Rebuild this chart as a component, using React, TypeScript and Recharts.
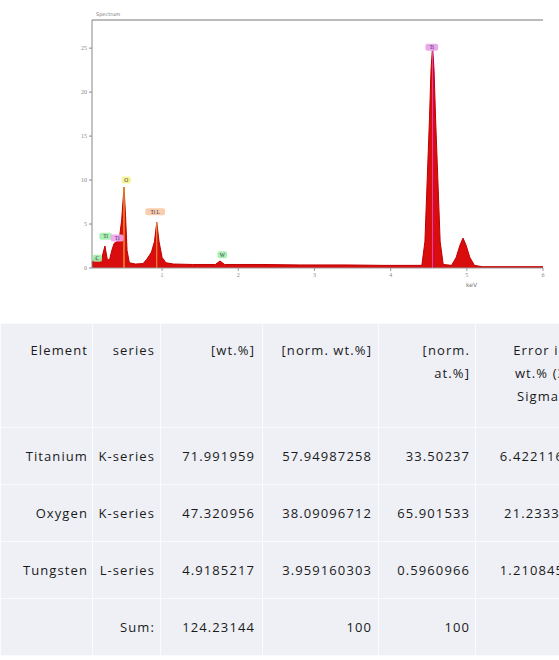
import React from "react";
import {
  Area,
  AreaChart,
  XAxis,
  YAxis,
  ReferenceLine,
  ReferenceDot,
} from "recharts";

// spectrum, energy in keV and intensity
const energy = [
  0.08, 0.11, 0.14, 0.17, 0.21, 0.25, 0.28, 0.31, 0.34, 0.37, 0.41, 0.44, 0.47,
  0.5, 0.52, 0.54, 0.57, 0.65, 0.75, 0.8, 0.86, 0.9, 0.93, 0.96, 1.0, 1.05,
  1.15, 1.4, 1.7, 1.76, 1.82, 2.3, 2.8, 3.4, 3.9, 4.41, 4.45, 4.48, 4.51, 4.53,
  4.55, 4.57, 4.59, 4.62, 4.65, 4.69, 4.8, 4.86, 4.91, 4.95, 4.99, 5.04, 5.1,
  5.2, 6.0,
];
const counts = [
  0.5, 1.1, 1.2, 0.7, 1.2, 2.5, 1.0, 0.9, 2.0, 2.8, 3.0, 3.4, 5.5, 9.2, 6.0,
  2.0, 0.6, 0.45, 0.5, 1.0, 1.8, 3.0, 5.2, 3.0, 1.2, 0.6, 0.45, 0.4, 0.4, 0.8,
  0.4, 0.4, 0.35, 0.35, 0.3, 0.3, 3.0, 10, 17, 22.5, 25.2, 22.5, 17, 10, 3.0,
  0.4, 0.3, 1.2, 2.6, 3.4, 2.6, 1.2, 0.3, 0.15, 0.15,
];

const xTicks = [1, 2, 3, 4, 5, 6];
const yTicks = [0, 5, 10, 15, 20, 25];

// peak labels: name, energy, label height, box colour
const peakNames = ["C", "Ti", "Ti", "O", "Ti L", "W", "Ti"];
const peakEnergy = [0.15, 0.26, 0.41, 0.53, 0.91, 1.79, 4.54];
const peakLabelY = [1.1, 3.6, 3.4, 10.0, 6.4, 1.5, 25.1];
const peakColors = ["#9ef0a8", "#9ef0a8", "#f4a0f0", "#f6f48c", "#f8c8a4", "#9ef0a8", "#e8a0e8"];

// marker lines inside peaks
const lineEnergy = [0.5, 0.93, 4.55];
const lineTop = [9.2, 5.2, 25.2];
const lineColors = ["#f0d040", "#f0a040", "#e040c0"];

// table
const headers = ["Element", "series", "[wt.%]", "[norm. wt.%]", "[norm.|at.%]", "Error in|wt.% (3|Sigma)"];
const elements = ["Titanium", "Oxygen", "Tungsten", ""];
const seriesNames = ["K-series", "K-series", "L-series", "Sum:"];
const wt = ["71.991959", "47.320956", "4.9185217", "124.23144"];
const normWt = ["57.94987258", "38.09096712", "3.959160303", "100"];
const normAt = ["33.50237", "65.901533", "0.5960966", "100"];
const errors = ["6.42211635", "21.233305", "1.21084591", ""];

const chartData = energy.map((e, i) => ({ e, c: counts[i] }));

const PeakTag = (props: any) => {
  const { cx, cy, name, color } = props;
  const w = name.length * 3.4 + 6;
  return (
    <g>
      <rect x={cx - w / 2} y={cy - 3.5} width={w} height={7} rx={2} fill={color} opacity={0.9} />
      <text x={cx} y={cy + 2} textAnchor="middle" fontSize={5.5} fill="#335">
        {name}
      </text>
    </g>
  );
};

const colW = [92, 68, 102, 116, 97, 130];
const rightEdgePad = [4, 5, 7, 6, 5, 0];

export default function App() {
  const cell = (content: string, i: number, header = false) => {
    const lines = content.split("|");
    return (
      <td
        key={i}
        style={{
          width: colW[i],
          maxWidth: colW[i],
          overflow: "hidden",
          whiteSpace: "nowrap",
          textAlign: i === 5 ? "center" : "right",
          verticalAlign: header ? "top" : "middle",
          padding: header ? "15px " + rightEdgePad[i] + "px 0 0" : "0 " + rightEdgePad[i] + "px 0 0",
          background: "#eef0f6",
          border: "1px solid #fafbfd",
          lineHeight: "23px",
          boxSizing: "border-box",
        }}
      >
        {lines.map((l, k) => (
          <div key={k}>{l}</div>
        ))}
      </td>
    );
  };

  return (
    <div
      style={{
        position: "absolute",
        left: 0,
        top: 0,
        width: 559,
        height: 660,
        overflow: "hidden",
        background: "#ffffff",
      }}
    >
      <div
        style={{
          position: "absolute",
          left: 96,
          top: 11,
          fontSize: 5,
          color: "#777",
          fontFamily: "DejaVu Sans",
        }}
      >
        Spectrum
      </div>
      <div
        style={{
          position: "absolute",
          left: 466,
          top: 281,
          fontSize: 6,
          color: "#777",
          fontFamily: "DejaVu Sans",
        }}
      >
        keV
      </div>
      <AreaChart
        width={559}
        height={300}
        data={chartData}
        margin={{ top: 20, right: 16, bottom: 12, left: 62 }}
      >
        <XAxis
          dataKey="e"
          type="number"
          domain={[0.08, 6]}
          ticks={xTicks}
          height={20}
          tickSize={3}
          stroke="#999"
          tick={{ fontSize: 6, fill: "#888" }}
        />
        <YAxis
          type="number"
          domain={[0, 28.2]}
          ticks={yTicks}
          width={30}
          tickSize={3}
          stroke="#888"
          tick={{ fontSize: 6, fill: "#888" }}
        />
        <ReferenceLine y={28.2} stroke="#bbbbbb" strokeWidth={2} />
        <Area
          type="linear"
          dataKey="c"
          stroke="#c00000"
          strokeWidth={1}
          fill="#d90d0d"
          fillOpacity={1}
          isAnimationActive={false}
        />
        {lineEnergy.map((e, i) => (
          <ReferenceLine
            key={"l" + i}
            segment={[
              { x: e, y: 0 },
              { x: e, y: lineTop[i] },
            ]}
            stroke={lineColors[i]}
            strokeWidth={1}
          />
        ))}
        {peakNames.map((n, i) => (
          <ReferenceDot
            key={"p" + i}
            x={peakEnergy[i]}
            y={peakLabelY[i]}
            r={0}
            shape={(p: any) => <PeakTag {...p} name={n} color={peakColors[i]} />}
          />
        ))}
      </AreaChart>
      <table
        style={{
          position: "absolute",
          left: 0,
          top: 323,
          borderCollapse: "collapse",
          tableLayout: "fixed",
          width: colW.reduce((a, b) => a + b, 0),
          fontFamily: "Open Sans",
          fontSize: 13,
          letterSpacing: 1.1,
          color: "#1a1a1a",
        }}
      >
        <tbody>
          <tr style={{ height: 104 }}>{headers.map((h, i) => cell(h, i, true))}</tr>
          {elements.map((el, r) => (
            <tr key={r} style={{ height: 57 }}>
              {[el, seriesNames[r], wt[r], normWt[r], normAt[r], errors[r]].map((v, i) => cell(v, i))}
            </tr>
          ))}
        </tbody>
      </table>
    </div>
  );
}
